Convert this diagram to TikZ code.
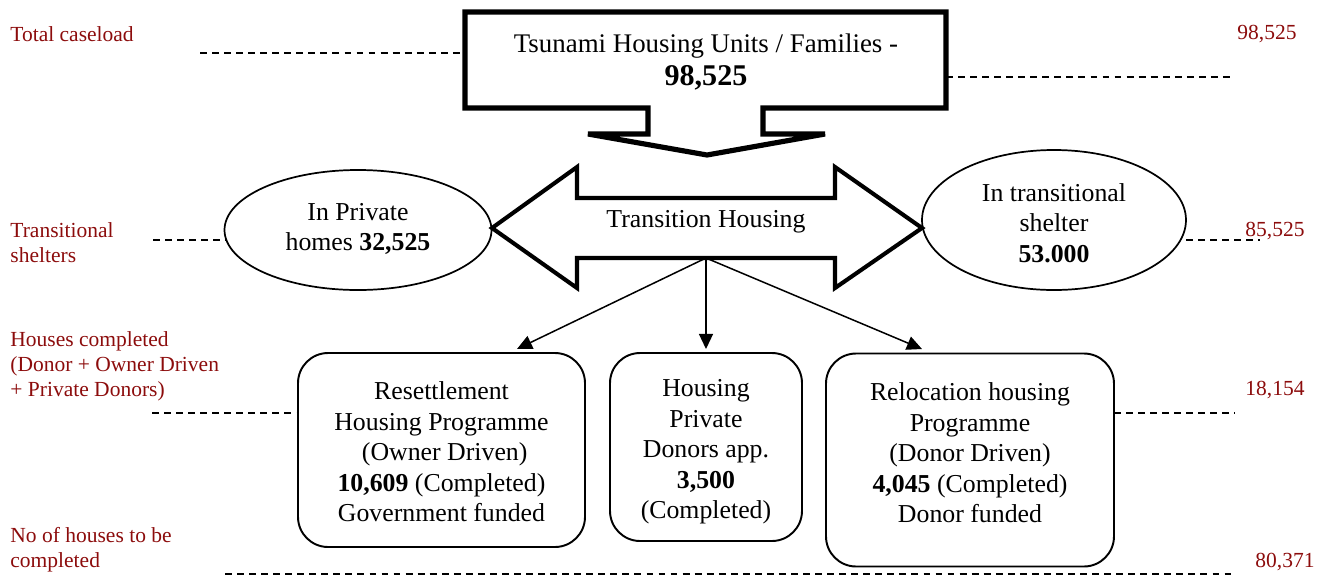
\documentclass[tikz,border=0pt]{standalone}
\usepackage{fontspec}
\setmainfont{Liberation Serif}
\usetikzlibrary{shapes.geometric,arrows.meta}
\definecolor{lab}{RGB}{140,12,12}
\def\u{0.465pt}
\begin{document}
\begin{tikzpicture}[x=0.465pt,y=-0.465pt,
  maintext/.style={font=\fontsize{12}{14.2}\selectfont, align=center, inner sep=0pt},
  labtext/.style={font=\fontsize{10}{11.6}\selectfont, text=lab, align=left, inner sep=0pt, anchor=west},
  dashline/.style={line width=0.55pt, dash pattern=on 3.2pt off 2.4pt},
  roundbox/.style={draw, line width=0.9pt, rounded corners=14pt, rectangle, inner sep=0pt},
  oval/.style={draw, ellipse, line width=0.8pt, inner sep=0pt},
  link/.style={line width=0.7pt, -{Triangle[length=7pt,width=6.5pt]}},
  bigarrow/.style={line join=miter, miter limit=10},
]
\useasboundingbox (0,0) rectangle (1321,576);

% top block arrow
\coordinate (tTL) at (465,12);
\coordinate (tTR) at (946,12);
\coordinate (tBR) at (946,108);
\coordinate (tBL) at (465,108);
\draw[bigarrow, line width=2.4pt] (tTL) -- (tTR) -- (tBR) -- (763,108) -- (763,134) -- (825,134)
  -- (707,155) -- (588,134) -- (648,134) -- (648,108) -- (tBL) -- cycle;
\node[maintext, font=\fontsize{12.5}{15.5}\selectfont] (toptext) at (706,62) {Tsunami Housing Units / Families -\\{\fontsize{14}{15.5}\selectfont\textbf{98,525}}};

% double arrow
\coordinate (dL) at (492,228);
\coordinate (dR) at (922,228);
\coordinate (th) at (706,258);
\draw[bigarrow, line width=1.9pt] (dL) -- (577,167) -- (577,198) -- (835,198) -- (835,167) -- (dR)
  -- (835,288) -- (835,258) -- (577,258) -- (577,288) -- cycle;
\node[maintext] (trans) at (706,222) {Transition Housing};

% ellipses
\node[oval, minimum width=267*\u, minimum height=120*\u] (pe) at (358,230) {};
\node[maintext] (petext) at (358,229) {In Private\\homes \textbf{32,525}};
\node[oval, minimum width=264*\u, minimum height=140*\u] (te) at (1054,220) {};
\node[maintext] (tetext) at (1054,223) {In transitional\\shelter\\\textbf{53.000}};

% boxes
\node[roundbox, minimum width=287*\u, minimum height=194*\u] (b1) at (441.5,450) {};
\node[maintext] (b1t) at (441.5,452) {Resettlement\\Housing Programme\\\ (Owner Driven)\\\textbf{10,609} (Completed)\\Government funded};
\node[roundbox, minimum width=192*\u, minimum height=188*\u] (b2) at (706,447) {};
\node[maintext] (b2t) at (706,452) {Housing\\Private\\Donors app.\\\textbf{3,500}\\(Completed)};
\node[roundbox, minimum width=288*\u, minimum height=213*\u] (b3) at (970,460) {};
\node[maintext] (b3t) at (970,453) {Relocation housing\\Programme\\(Donor Driven)\\\textbf{4,045} (Completed)\\Donor funded};

% connectors
\coordinate (a1) at (517,349);
\coordinate (a2) at (706,349);
\coordinate (a3) at (922,349);
\draw[link] (th) -- (a1);
\draw[link] (th) -- (a2);
\draw[link] (th) -- (a3);

% dashed guide lines
\coordinate (g1a) at (200,53);  \coordinate (g1b) at (465,53);
\coordinate (g2a) at (946,77);  \coordinate (g2b) at (1235,77);
\coordinate (g3a) at (153,240); \coordinate (g3b) at (227,240);
\coordinate (g4a) at (1186,240); \coordinate (g4b) at (1260,240);
\coordinate (g5a) at (152,413); \coordinate (g5b) at (298,413);
\coordinate (g6a) at (1114,413); \coordinate (g6b) at (1235,413);
\coordinate (g7a) at (225,574); \coordinate (g7b) at (1233,574);
\draw[dashline] (g1a) -- (g1b);
\draw[dashline] (g2a) -- (g2b);
\draw[dashline] (g3a) -- (g3b);
\draw[dashline] (g4a) -- (g4b);
\draw[dashline] (g5a) -- (g5b);
\draw[dashline] (g6a) -- (g6b);
\draw[dashline] (g7a) -- (g7b);

% labels
\node[labtext] (l1) at (10,34) {Total caseload};
\node[labtext] (l2) at (10,243) {Transitional\\shelters};
\node[labtext] (l3) at (10,366) {Houses completed\\(Donor + Owner Driven\\+ Private Donors)};
\node[labtext] (l4) at (10,550) {No of houses to be\\completed};
\node[labtext] (r1) at (1237,34) {98,525};
\node[labtext] (r2) at (1245,231) {85,525};
\node[labtext] (r3) at (1245,390) {18,154};
\node[labtext] (r4) at (1255,562) {80,371};
\end{tikzpicture}
\end{document}
